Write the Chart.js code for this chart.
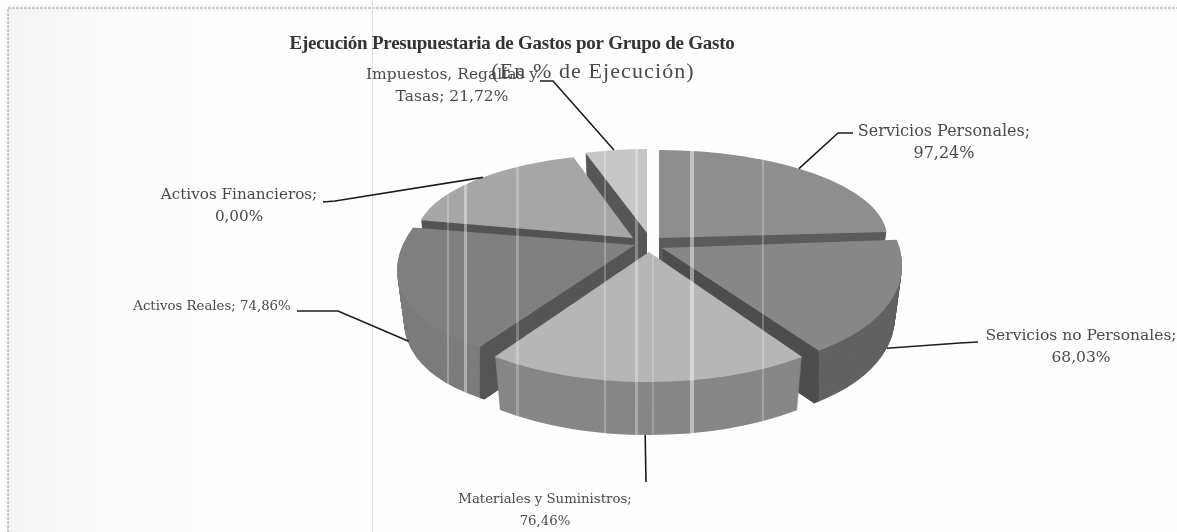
<!DOCTYPE html>
<html>
<head>
<meta charset="utf-8">
<style>
  html, body { margin: 0; padding: 0; background: #fff; }
  canvas { display: block; }
</style>
<script src="https://cdn.jsdelivr.net/npm/chart.js@4/dist/chart.umd.js"></script>
</head>
<body>
<canvas id="pieChart" width="1177" height="532"></canvas>
<script>
const chartTitle = 'Ejecución Presupuestaria de Gastos por Grupo de Gasto'
const chartSubtitle = '(En % de Ejecución)'

const categories = ['Servicios Personales', 'Servicios no Personales', 'Materiales y Suministros', 'Activos Reales', 'Activos Financieros', 'Impuestos, Regalías y Tasas']
// printed on the labels
const executedPct = [97.24, 68.03, 76.46, 74.86, 0.00, 21.72]
// slice sizes as they look in the picture (they do not follow the labels)
const sliceShare = [22.8, 16.7, 20.8, 18.9, 16.1, 4.7]
const sliceColors = ['#8e8e8e', '#878787', '#b6b6b6', '#808080', '#a6a6a6', '#c6c6c6']

// how each slice sits on the page (the 3D look), back slices first
// trim = degrees added to the start and end of the slice for the perspective
const drawOrder = [5, 0, 4, 1, 3, 2]
const depth = 53
const sliceFrames = [
  {cx: 659, cy: 238, rx: 228, ry: 88, shear: 0, trim: [0, 4], wall: '#5c5c5c', cut: '#5c5c5c'},
  {cx: 662, cy: 248, rx: 240, ry: 121, shear: 0.071, trim: [-4, -3], wall: '#626262', cut: '#4e4e4e', split: 'end'},
  {cx: 649, cy: 252, rx: 260, ry: 130, shear: 0, trim: [1.7, -0.7], wall: '#878787', cut: '#878787'},
  {cx: 635, cy: 245, rx: 238, ry: 113, shear: -0.105, trim: [3.6, 6], wall: '#7c7c7c', cut: '#565656', split: 'start'},
  {cx: 633, cy: 238, rx: 217, ry: 84, shear: 0, trim: [-3, 1], wall: '#545454', cut: '#545454'},
  {cx: 647, cy: 233, rx: 212, ry: 84, shear: 0, trim: [0, 0], wall: '#565656', cut: '#565656'}
]

// label text boxes and leader lines, "along" is the place on the slice edge
const labelLayout = [
  {x: 944, y: 132, size: 16, along: 0.44, drop: 0, path: [[838, 133], [853, 133]]},
  {x: 1081, y: 336, size: 15.5, along: 0.44, drop: 53, path: [[960, 343], [978, 342]]},
  {x: 545, y: 500, size: 13.3, along: 0.51, drop: 53, path: [[646, 482]]},
  {x: 212, y: 307, size: 13.3, oneLine: true, along: 0.53, drop: 49, path: [[338, 311], [297, 311]]},
  {x: 239, y: 195, size: 15.2, along: 0.55, drop: 0, path: [[335, 201], [323, 202]]},
  {x: 452, y: 75, size: 15.5, along: 0.47, drop: 0, path: [[553, 81], [540, 81]], wrap: 'Impuestos, Regalías y|Tasas'}
]

const scanStreaks = [[447, 2, .25], [464, 3, .4], [516, 3, .25], [604, 2, .25], [635, 3, .3], [652, 2, .2], [690, 4, .45], [762, 2, .25]]

const fmtPct = (v) => v.toFixed(2).replace('.', ',') + '%'
const rad = (deg) => deg * Math.PI / 180

const labelLines = (i) => {
  const l = labelLayout[i]
  if (l.wrap) {
    const w = l.wrap.split('|')
    return [w[0], `${w[1]}; ${fmtPct(executedPct[i])}`]
  }
  if (l.oneLine) return [`${categories[i]}; ${fmtPct(executedPct[i])}`]
  return [`${categories[i]};`, fmtPct(executedPct[i])]
}

const trimmed = (el, f) => [el.startAngle + rad(f.trim[0]), el.endAngle + rad(f.trim[1])]

// draw one arc of the pie with its own frame, d pixels down
const drawArcAt = (ctx, el, f, d, color) => {
  const k = 1 - 0.03 * d / depth
  const sx = f.rx * k / el.outerRadius
  const sy = f.ry / el.outerRadius
  const [a0, a1] = trimmed(el, f)
  const copy = Object.create(el)
  copy.options = {...el.options, backgroundColor: color}
  copy.startAngle = a0
  copy.endAngle = a1
  copy.circumference = a1 - a0
  ctx.save()
  ctx.transform(sx, f.shear * sx, 0, sy, f.cx - sx * el.x, f.cy + d - sy * el.y - f.shear * sx * el.x)
  copy.draw(ctx)
  ctx.restore()
}

const edgePoint = (f, angle, d) => {
  const k = 1 - 0.03 * d / depth
  const dx = Math.cos(angle) * f.rx * k
  return [f.cx + dx, f.cy + Math.sin(angle) * f.ry + f.shear * dx + d]
}

const pie3d = {
  id: 'pie3d',
  beforeDraw(chart) {
    const ctx = chart.ctx
    const w = chart.width, h = chart.height
    ctx.save()
    ctx.fillStyle = '#fefefe'
    ctx.fillRect(0, 0, w, h)
    const g = ctx.createLinearGradient(8, 0, 240, 0)
    g.addColorStop(0, '#f5f5f5')
    g.addColorStop(1, 'rgba(250,250,250,0)')
    ctx.fillStyle = g
    ctx.fillRect(8, 8, 232, h - 8)
    ctx.strokeStyle = '#9a9a9a'
    ctx.setLineDash([3, 1])
    ctx.beginPath()
    ctx.moveTo(8, h)
    ctx.lineTo(8, 8)
    ctx.lineTo(w, 8)
    ctx.stroke()
    ctx.setLineDash([])
    ctx.strokeStyle = '#e0e0e0'
    ctx.beginPath()
    ctx.moveTo(372.5, 0)
    ctx.lineTo(372.5, h)
    ctx.stroke()
    ctx.restore()
  },
  // the library's arcs are drawn here, so the normal flat pie is skipped
  beforeDatasetsDraw(chart) {
    const ctx = chart.ctx
    const arcs = chart.getDatasetMeta(0).data
    drawOrder.forEach((i) => {
      const el = arcs[i]
      const f = sliceFrames[i]
      const [a0, a1] = trimmed(el, f)
      let splitX = null
      if (f.split) splitX = edgePoint(f, f.split === 'end' ? a1 : a0, 0)[0]
      for (let d = depth; d > 0; d--) {
        if (splitX === null) {
          drawArcAt(ctx, el, f, d, f.wall)
        } else {
          const cutLeft = f.split === 'end'
          ctx.save()
          ctx.beginPath()
          ctx.rect(0, 0, splitX, chart.height)
          ctx.clip()
          drawArcAt(ctx, el, f, d, cutLeft ? f.cut : f.wall)
          ctx.restore()
          ctx.save()
          ctx.beginPath()
          ctx.rect(splitX, 0, chart.width - splitX, chart.height)
          ctx.clip()
          drawArcAt(ctx, el, f, d, cutLeft ? f.wall : f.cut)
          ctx.restore()
        }
      }
      drawArcAt(ctx, el, f, 0, sliceColors[i])
    })
    return false
  },
  afterDraw(chart) {
    const ctx = chart.ctx
    const arcs = chart.getDatasetMeta(0).data
    ctx.save()
    // scanner streaks, they only show on the grey slices
    scanStreaks.forEach(([x, wd, a]) => {
      ctx.fillStyle = `rgba(255,255,255,${a})`
      ctx.fillRect(x, 140, wd, 300)
    })

    ctx.strokeStyle = '#1c1c1c'
    ctx.lineWidth = 1.6
    labelLayout.forEach((l, i) => {
      const f = sliceFrames[i]
      const [a0, a1] = trimmed(arcs[i], f)
      const p = edgePoint(f, a0 + (a1 - a0) * l.along, l.drop)
      ctx.beginPath()
      ctx.moveTo(p[0], p[1])
      l.path.forEach((q) => ctx.lineTo(q[0], q[1]))
      ctx.stroke()
    })

    ctx.textAlign = 'center'
    ctx.textBaseline = 'middle'
    labelLayout.forEach((l, i) => {
      ctx.font = `${l.size}px "DejaVu Serif"`
      ctx.fillStyle = '#4a4a4a'
      labelLines(i).forEach((t, n) => ctx.fillText(t, l.x, l.y + n * 22))
    })

    ctx.letterSpacing = '-0.25px'
    ctx.font = 'bold 19px "Liberation Serif"'
    ctx.fillStyle = '#333'
    ctx.fillText(chartTitle, 512, 44)
    ctx.letterSpacing = '1.1px'
    ctx.font = '22px "Liberation Serif"'
    ctx.fillStyle = '#4a4a4a'
    ctx.fillText(chartSubtitle, 593, 72)
    ctx.restore()
  }
}

new Chart(document.getElementById('pieChart'), {
  type: 'pie',
  data: {
    labels: categories,
    datasets: [{data: sliceShare, backgroundColor: sliceColors, borderWidth: 0}]
  },
  options: {
    responsive: false,
    animation: false,
    plugins: {legend: {display: false}, tooltip: {enabled: false}, title: {display: false}}
  },
  plugins: [pie3d]
})
</script>
</body>
</html>
